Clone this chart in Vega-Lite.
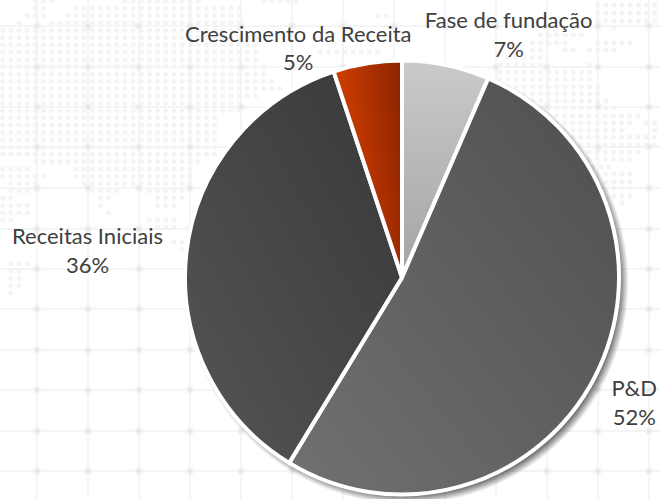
{
"$schema":"https://vega.github.io/schema/vega-lite/v6.json",
"width":434,"height":435,
"autosize":{"type":"none"},
"padding":{"left":185,"top":60,"right":41,"bottom":4},
"background":"white",
"config":{"view":{"stroke":null}},
"datasets":{
"slices":[
{"name":"Fase de fundação","value":6.5,"order":1,"label":"Fase de fundação\n7%"},
{"name":"P&D","value":52.2,"order":2,"label":"P&D\n52%"},
{"name":"Receitas Iniciais","value":36.2,"order":3,"label":"Receitas Iniciais\n36%"},
{"name":"Crescimento da Receita","value":5.1,"order":4,"label":"Crescimento da Receita\n5%"}
],
"vlines":[{"x":37},{"x":88},{"x":139},{"x":190},{"x":241},{"x":292},{"x":343},{"x":394},{"x":445},{"x":496},{"x":547},{"x":598},{"x":649}],
"hlines":[{"y":26},{"y":67},{"y":107},{"y":147},{"y":188},{"y":229},{"y":269},{"y":309},{"y":350},{"y":390},{"y":431},{"y":471}],
"dots":[
{"y":1,"a":35.3,"b":52},{"y":1,"a":124.95,"b":198.8},{"y":1,"a":263.5,"b":296.5},
{"y":8.3,"a":35.3,"b":44},{"y":8.3,"a":76.05,"b":239.5},
{"y":15.6,"a":27.15,"b":44},{"y":15.6,"a":67.9,"b":239.5},{"y":15.6,"a":377.6,"b":386.3},
{"y":22.9,"a":19,"b":19.5},{"y":22.9,"a":51.6,"b":239.5},
{"y":30.2,"a":2.7,"b":239.5},{"y":37.5,"a":2.7,"b":255.8},{"y":44.8,"a":2.7,"b":255.8},{"y":52.1,"a":2.7,"b":255.8},{"y":52.1,"a":320.55,"b":378},{"y":59.4,"a":2.7,"b":255.8},
{"y":66.7,"a":2.7,"b":264},{"y":74,"a":2.7,"b":264},{"y":81.3,"a":2.7,"b":272},{"y":88.6,"a":2.7,"b":280.3},{"y":95.9,"a":2.7,"b":255.8},
{"y":103.2,"a":2.7,"b":239.5},{"y":110.5,"a":2.7,"b":239.5},{"y":117.8,"a":2.7,"b":215},{"y":125.1,"a":2.7,"b":215},{"y":132.4,"a":2.7,"b":215},{"y":139.7,"a":2.7,"b":215},{"y":147,"a":2.7,"b":215},{"y":154.3,"a":2.7,"b":215},
{"y":161.6,"a":35.3,"b":198.8},
{"y":168.9,"a":2.7,"b":27.6},{"y":168.9,"a":76.05,"b":190.6},
{"y":176.2,"a":2.7,"b":43.9},{"y":176.2,"a":76.05,"b":190.6},
{"y":183.5,"a":10.85,"b":35.8},{"y":183.5,"a":84.2,"b":190.6},
{"y":190.8,"a":10.85,"b":27.6},{"y":190.8,"a":92.35,"b":117.3},{"y":190.8,"a":149.4,"b":182.5},
{"y":198.1,"a":2.7,"b":11.3},{"y":198.1,"a":100.5,"b":109.1},{"y":198.1,"a":157.55,"b":182.5},
{"y":205.4,"a":2.7,"b":27.6},{"y":205.4,"a":100.5,"b":101},{"y":205.4,"a":157.55,"b":174.3},
{"y":212.7,"a":2.7,"b":27.6},{"y":212.7,"a":108.65,"b":109.1},
{"y":220,"a":2.7,"b":11.3},{"y":220,"a":149.4,"b":174.3},
{"y":227.3,"a":157.55,"b":174.3},
{"y":241.9,"a":173.85,"b":182.5},{"y":249.2,"a":182,"b":182.5},
{"y":263.8,"a":10.85,"b":27.6},{"y":271.1,"a":10.85,"b":19.5},{"y":278.4,"a":10.85,"b":19.5},{"y":285.7,"a":10.85,"b":19.5},{"y":293,"a":10.85,"b":11.3},
{"y":5,"a":597.65,"b":660},{"y":13,"a":597.65,"b":660},{"y":21,"a":597.65,"b":660},
{"y":28,"a":613.95,"b":614.4},
{"y":35,"a":540.6,"b":581.8},
{"y":43,"a":532.45,"b":565.5},{"y":43,"a":597.65,"b":630.6},
{"y":50,"a":532.45,"b":541},{"y":50,"a":565.05,"b":573.7},{"y":50,"a":589.5,"b":614.4},
{"y":57.4,"a":507.65,"b":541},
{"y":65,"a":499.85,"b":541},{"y":65,"a":589.5,"b":590},
{"y":72,"a":499.85,"b":590},{"y":79,"a":499.85,"b":590},{"y":87,"a":499.85,"b":598.1},{"y":94,"a":499.85,"b":598.1},{"y":101,"a":499.85,"b":606.3},{"y":108,"a":499.85,"b":614.4},
{"y":116,"a":540,"b":638.9},{"y":123,"a":540,"b":630.8},{"y":123,"a":646.7,"b":660},{"y":130,"a":540,"b":622.6},{"y":130,"a":654.9,"b":660},
{"y":137,"a":540,"b":655.3},{"y":145,"a":540,"b":655.3},{"y":152,"a":540,"b":638.9},{"y":159,"a":540,"b":630.8},{"y":167,"a":560,"b":614.4},
{"y":174,"a":605.8,"b":630.8},{"y":182,"a":605.8,"b":630.8},{"y":188,"a":613.95,"b":630.8},{"y":196,"a":613.95,"b":630.8},{"y":203,"a":622.1,"b":622.6}
]
},
"data":{"name":"slices"},
"layer":[
{"data":{"name":"dots"},"mark":{"type":"rule","stroke":"#f4f4f4","strokeWidth":5,"strokeCap":"round","strokeDash":[0,8.15]},
"encoding":{"x":{"field":"a","type":"quantitative","axis":null,"scale":{"domain":[185,619]}},"x2":{"field":"b"},"y":{"field":"y","type":"quantitative","axis":null,"scale":{"domain":[60,495],"reverse":true}}}},
{"data":{"name":"vlines"},"transform":[{"calculate":"0","as":"top"},{"calculate":"499","as":"bot"}],"mark":{"type":"rule","stroke":"#f2f2f2","strokeWidth":1.5},
"encoding":{"x":{"field":"x","type":"quantitative","axis":null,"scale":{"domain":[185,619]}},"y":{"field":"top","type":"quantitative","axis":null,"scale":{"domain":[60,495],"reverse":true}},"y2":{"field":"bot"}}},
{"data":{"name":"hlines"},"transform":[{"calculate":"0","as":"l"},{"calculate":"660","as":"r"}],"mark":{"type":"rule","stroke":"#f2f2f2","strokeWidth":1.5},
"encoding":{"x":{"field":"l","type":"quantitative","axis":null,"scale":{"domain":[185,619]}},"x2":{"field":"r"},"y":{"field":"y","type":"quantitative","axis":null,"scale":{"domain":[60,495],"reverse":true}}}},
{"data":{"name":"hlines"},"transform":[{"calculate":"37","as":"l"},{"calculate":"650","as":"r"}],"mark":{"type":"rule","stroke":"#f3f3f3","strokeWidth":8,"strokeCap":"round","strokeDash":[0,51]},
"encoding":{"x":{"field":"l","type":"quantitative","axis":null,"scale":{"domain":[185,619]}},"x2":{"field":"r"},"y":{"field":"y","type":"quantitative","axis":null,"scale":{"domain":[60,495],"reverse":true}}}},
{"data":{"name":"hlines"},"transform":[{"calculate":"37","as":"l"},{"calculate":"650","as":"r"}],"mark":{"type":"rule","stroke":"#e6e6e6","strokeWidth":4,"strokeCap":"round","strokeDash":[0,51]},
"encoding":{"x":{"field":"l","type":"quantitative","axis":null,"scale":{"domain":[185,619]}},"x2":{"field":"r"},"y":{"field":"y","type":"quantitative","axis":null,"scale":{"domain":[60,495],"reverse":true}}}},
{"data":{"values":[{"v":1}]},
"mark":{"type":"arc","theta":0,"theta2":6.2832,"innerRadius":0,"outerRadius":228,"fill":{"gradient":"radial","x1":0.51,"y1":0.51,"r1":0,"x2":0.51,"y2":0.51,"r2":0.487,"stops":[{"offset":0.96,"color":"rgba(0,0,0,0.55)"},{"offset":1,"color":"rgba(0,0,0,0)"}]}},"encoding":{}},
{"mark":{"type":"arc","outerRadius":217,"innerRadius":0,"stroke":"white","strokeWidth":4},
"encoding":{
"theta":{"field":"value","type":"quantitative","stack":true,"scale":{"domain":[0,100]}},
"order":{"field":"order"},
"fill":{"condition":[
{"test":"datum.order==1","value":{"gradient":"linear","x1":0,"y1":0,"x2":0,"y2":1,"stops":[{"offset":0,"color":"#cbc9c9"},{"offset":1,"color":"#a5a4a4"}]}},
{"test":"datum.order==2","value":{"gradient":"linear","x1":1,"y1":0,"x2":0,"y2":1,"stops":[{"offset":0,"color":"#4e4e4e"},{"offset":1,"color":"#717171"}]}},
{"test":"datum.order==3","value":{"gradient":"linear","x1":1,"y1":0,"x2":0,"y2":1,"stops":[{"offset":0,"color":"#383838"},{"offset":1,"color":"#555555"}]}}
],"value":{"gradient":"linear","x1":0,"y1":0.3,"x2":1,"y2":0,"stops":[{"offset":0,"color":"#d64000"},{"offset":1,"color":"#8a2300"}]}}
}},
{"transform":[{"stack":"value","sort":[{"field":"order"}],"groupby":[],"as":["t0","t1"]},{"calculate":"(datum.t0+datum.t1)/2","as":"mid"},{"filter":"datum.order==1"}],
"mark":{"type":"text","font":"Lato","fontSize":22,"fill":"#404040","lineBreak":"\n","lineHeight":28.5,"radius":230,"dx":60,"dy":-31},
"encoding":{"theta":{"field":"mid","type":"quantitative","scale":{"domain":[0,100]}},"text":{"field":"label"}}},
{"transform":[{"stack":"value","sort":[{"field":"order"}],"groupby":[],"as":["t0","t1"]},{"calculate":"(datum.t0+datum.t1)/2","as":"mid"},{"filter":"datum.order==2"}],
"mark":{"type":"text","font":"Lato","fontSize":22,"fill":"#404040","lineBreak":"\n","lineHeight":28.5,"radius":230,"dx":28,"dy":6},
"encoding":{"theta":{"field":"mid","type":"quantitative","scale":{"domain":[0,100]}},"text":{"field":"label"}}},
{"transform":[{"stack":"value","sort":[{"field":"order"}],"groupby":[],"as":["t0","t1"]},{"calculate":"(datum.t0+datum.t1)/2","as":"mid"},{"filter":"datum.order==3"}],
"mark":{"type":"text","font":"Lato","fontSize":22,"fill":"#404040","lineBreak":"\n","lineHeight":28.5,"radius":230,"dx":-86,"dy":-14.5},
"encoding":{"theta":{"field":"mid","type":"quantitative","scale":{"domain":[0,100]}},"text":{"field":"label"}}},
{"transform":[{"stack":"value","sort":[{"field":"order"}],"groupby":[],"as":["t0","t1"]},{"calculate":"(datum.t0+datum.t1)/2","as":"mid"},{"filter":"datum.order==4"}],
"mark":{"type":"text","font":"Lato","fontSize":22,"fill":"#404040","lineBreak":"\n","lineHeight":28.5,"radius":230,"dx":-67,"dy":-15.5},
"encoding":{"theta":{"field":"mid","type":"quantitative","scale":{"domain":[0,100]}},"text":{"field":"label"}}}
]
}
